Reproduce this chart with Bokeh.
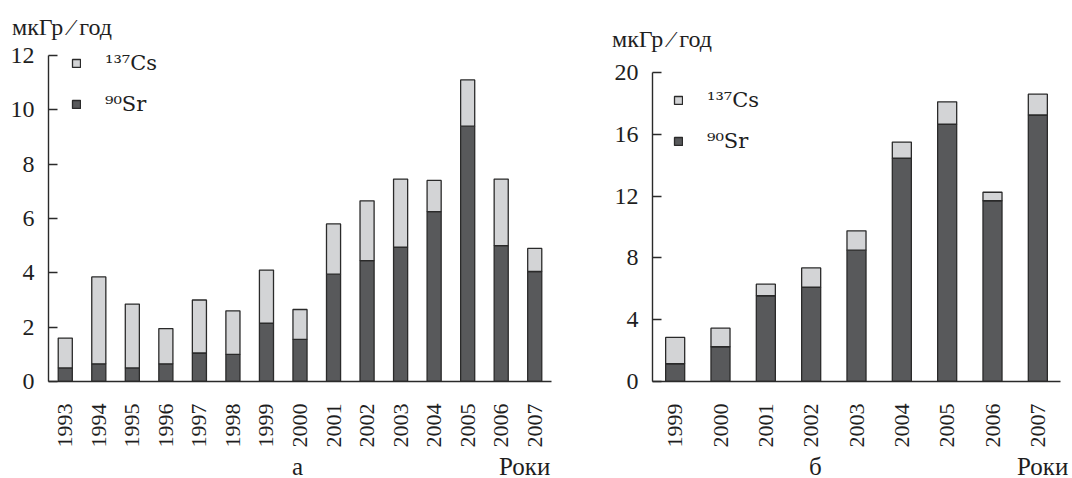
import math
from bokeh.plotting import figure
from bokeh.layouts import row, column
from bokeh.models import ColumnDataSource, FactorRange, Range1d, FixedTicker, Legend, LegendItem, Div
from bokeh.embed import file_html
from bokeh.resources import INLINE

# ---- data ----
years_a = ["1993", "1994", "1995", "1996", "1997", "1998", "1999", "2000",
           "2001", "2002", "2003", "2004", "2005", "2006", "2007"]
sr_a = [0.5, 0.65, 0.5, 0.65, 1.05, 1.0, 2.15, 1.55, 3.95, 4.45, 4.95, 6.25, 9.4, 5.0, 4.05]
cs_a = [1.1, 3.2, 2.35, 1.3, 1.95, 1.6, 1.95, 1.1, 1.85, 2.2, 2.5, 1.15, 1.7, 2.45, 0.85]

years_b = ["1999", "2000", "2001", "2002", "2003", "2004", "2005", "2006", "2007"]
sr_b = [1.15, 2.25, 5.55, 6.1, 8.5, 14.45, 16.65, 11.7, 17.25]
cs_b = [1.7, 1.2, 0.75, 1.25, 1.25, 1.05, 1.45, 0.55, 1.35]

yticks_a = [0, 2, 4, 6, 8, 10, 12]
yticks_b = [0, 4, 8, 12, 16, 20]

series_names = ["\u00b9\u00b3\u2077Cs", "\u2079\u2070Sr"]
y_title = "мкГр ⁄ год"
x_title = "Роки"
panel_names = ["а", "б"]

FONT = "Liberation Serif"
LFONT = "DejaVu Serif"
DARK = "#58595b"
LIGHT = "#d3d4d6"
EDGE = "#2a2a2a"
TXT = "#1e1e1e"


def make_panel(years, sr, cs, yticks, ymax, yview, width, height, bl, br, bt, bb, leg_loc):
    src = ColumnDataSource(dict(year=years, sr=sr, cs=cs))
    p = figure(x_range=FactorRange(*years, range_padding=0),
               y_range=Range1d(0, yview),
               width=width, height=height, output_backend="svg",
               toolbar_location=None, min_border_left=bl, min_border_right=br,
               min_border_top=bt, min_border_bottom=bb)
    p.x_range.range_padding = 0
    rs = p.vbar_stack(["sr", "cs"], x="year", width=0.42, source=src,
                      fill_color=[DARK, LIGHT], line_color=EDGE, line_width=1.3)
    p.outline_line_color = None
    p.xgrid.grid_line_color = None
    p.ygrid.grid_line_color = None
    p.background_fill_color = "white"
    p.border_fill_color = "white"

    ax = p.yaxis[0]
    ax.ticker = FixedTicker(ticks=yticks)
    ax.bounds = (0, ymax)
    ax.minor_tick_line_color = None
    ax.major_tick_in = 9
    ax.major_tick_out = 0
    ax.axis_line_color = EDGE
    ax.axis_line_width = 1.4
    ax.major_tick_line_color = EDGE
    ax.major_tick_line_width = 1.4
    ax.major_label_text_font = FONT
    ax.major_label_text_font_size = "24px"
    ax.major_label_text_color = TXT
    ax.major_label_standoff = 14

    xa = p.xaxis[0]
    xa.major_tick_line_color = None
    xa.minor_tick_line_color = None
    xa.axis_line_color = EDGE
    xa.axis_line_width = 1.4
    xa.major_label_orientation = math.pi / 2
    xa.major_label_text_font = FONT
    xa.major_label_text_font_size = "22px"
    xa.major_label_text_color = TXT
    xa.major_label_standoff = 16

    legend = Legend(items=[LegendItem(label=series_names[0], renderers=[rs[1]]),
                           LegendItem(label=series_names[1], renderers=[rs[0]])],
                    location=leg_loc, margin=0, padding=0,
                    glyph_width=10, glyph_height=10, label_standoff=24,
                    spacing=17, border_line_color=None, background_fill_alpha=0,
                    label_text_font=LFONT, label_text_font_size="21px",
                    label_text_color=TXT)
    p.add_layout(legend, "center")
    return p


def text_div(width, height, items):
    spans = "".join(
        f'<span style="position:absolute;left:{x}px;top:{y}px;font-size:{s}px;'
        f'line-height:1;white-space:nowrap;">{t}</span>'
        for t, x, y, s in items)
    html = (f'<div style="position:relative;width:{width}px;height:{height}px;'
            f'font-family:\'{FONT}\';color:{TXT};">{spans}</div>')
    return Div(text=html, width=width, height=height, margin=0)


# left panel (a): axis 0..12 from y=381 up to y=55, frame extended to y=45
top_a = text_div(560, 43, [(y_title, 12, 15, 24)])
pa = make_panel(years_a, sr_a, cs_a, yticks_a, 12, 12 * 336 / 326, 560, 407, 48, 9, 2, 67, (23, 265))
bot_a = text_div(560, 28, [(panel_names[0], 292, 4, 25), (x_title, 499, 4, 25)])

# right panel (b): axis 0..20 from y=381 up to y=72
top_b = text_div(512, 58, [(y_title, 52, 27, 24)])
pb = make_panel(years_b, sr_b, cs_b, yticks_b, 20, 20, 512, 392, 92, 12, 14, 67, (21, 228))
bot_b = text_div(512, 28, [(panel_names[1], 249, 4, 25), (x_title, 457, 4, 25)])

layout = row(column(top_a, pa, bot_a), column(top_b, pb, bot_b))
open("out.html", "w").write(file_html(layout, INLINE))
